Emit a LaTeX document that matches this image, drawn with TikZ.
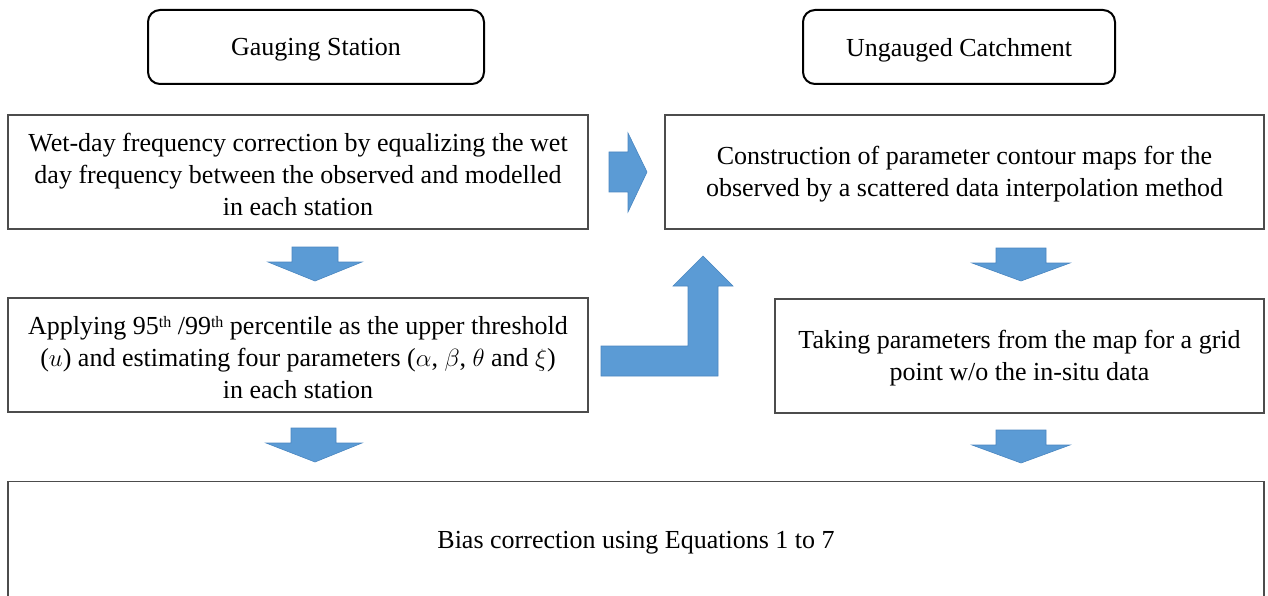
\documentclass[tikz,border=0pt]{standalone}
\usepackage{fontspec}
\setmainfont{Liberation Serif}
\definecolor{arrowblue}{HTML}{5B9BD5}
\definecolor{arrowedge}{HTML}{4A86C0}
\begin{document}
\begin{tikzpicture}[x=1pt,y=-1pt,
  procbox/.style={draw=black!70, line width=1.2pt, inner sep=0pt},
  headbox/.style={draw=black, line width=2pt, rounded corners=12pt, inner sep=0pt},
  boxtext/.style={align=center, inner sep=0pt, font=\fontsize{26}{32}\selectfont},
  blockarrow/.style={fill=arrowblue, draw=arrowedge, line width=0.6pt, line join=miter}]
\useasboundingbox (0,0) rectangle (1268,596);
\clip (0,0) rectangle (1268,596);

% column headers
\node[headbox, minimum width=336pt, minimum height=74pt] (gs) at (316,47) {};
\node[boxtext] (gs-t) at ([yshift=-3pt]gs.center) {Gauging Station};
\node[headbox, minimum width=312pt, minimum height=74pt] (uc) at (959,47) {};
\node[boxtext] (uc-t) at ([yshift=-3pt]uc.center) {Ungauged Catchment};

% process boxes
\node[procbox, minimum width=580pt, minimum height=114pt] (wet) at (298,172) {};
\node[boxtext] (wet-t) at ([yshift=-2.5pt]wet.center)
  {Wet-day frequency correction by equalizing the wet\\
   day frequency between the observed and modelled\\
   in each station};
\node[procbox, minimum width=599pt, minimum height=114pt] (contour) at (964.5,172) {};
\node[boxtext] (contour-t) at ([yshift=-2.5pt]contour.center)
  {Construction of parameter contour maps for the\\
   observed by a scattered data interpolation method};
\node[procbox, minimum width=580pt, minimum height=114pt] (thresh) at (298,355) {};
\node[boxtext] (thresh-t) at ([yshift=-2.5pt]thresh.center)
  {Applying 95{\fontsize{16}{16}\selectfont\raisebox{7pt}{th}} /99{\fontsize{16}{16}\selectfont\raisebox{7pt}{th}} percentile as the upper threshold\\
   ($u$) and estimating four parameters ($\alpha$, $\beta$, $\theta$ and $\xi$)\\
   in each station};
\node[procbox, minimum width=489pt, minimum height=114pt] (grid) at (1019.5,356) {};
\node[boxtext] (grid-t) at ([yshift=-2.5pt]grid.center)
  {Taking parameters from the map for a grid\\
   point w/o the in-situ data};

% final box, open past the lower edge
\node[procbox, minimum width=1256pt, minimum height=130pt, anchor=north] (bias) at (636,481) {};
\node[boxtext] (bias-t) at (636,543) {Bias correction using Equations 1 to 7};

% block arrows
\fill[blockarrow] (609,152) -- (628,152) -- (628,133) -- (647,172) -- (628,212)
  -- (628,192) -- (609,192) -- cycle;
\fill[blockarrow] (292,247) -- (338,247) -- (338,262) -- (362,262) -- (315,281)
  -- (268,262) -- (292,262) -- cycle;
\fill[blockarrow] (291,428) -- (336,428) -- (336,443) -- (362,443) -- (315,462)
  -- (266,443) -- (291,443) -- cycle;
\fill[blockarrow] (996,248) -- (1046,248) -- (1046,263) -- (1070,263) -- (1021,281)
  -- (972,263) -- (996,263) -- cycle;
\fill[blockarrow] (996,430) -- (1046,430) -- (1046,445) -- (1070,445) -- (1021,463)
  -- (972,445) -- (996,445) -- cycle;
\fill[blockarrow] (601,346) -- (688,346) -- (688,286) -- (673,286) -- (703,256)
  -- (733,286) -- (718,286) -- (718,376) -- (601,376) -- cycle;
\end{tikzpicture}
\end{document}
